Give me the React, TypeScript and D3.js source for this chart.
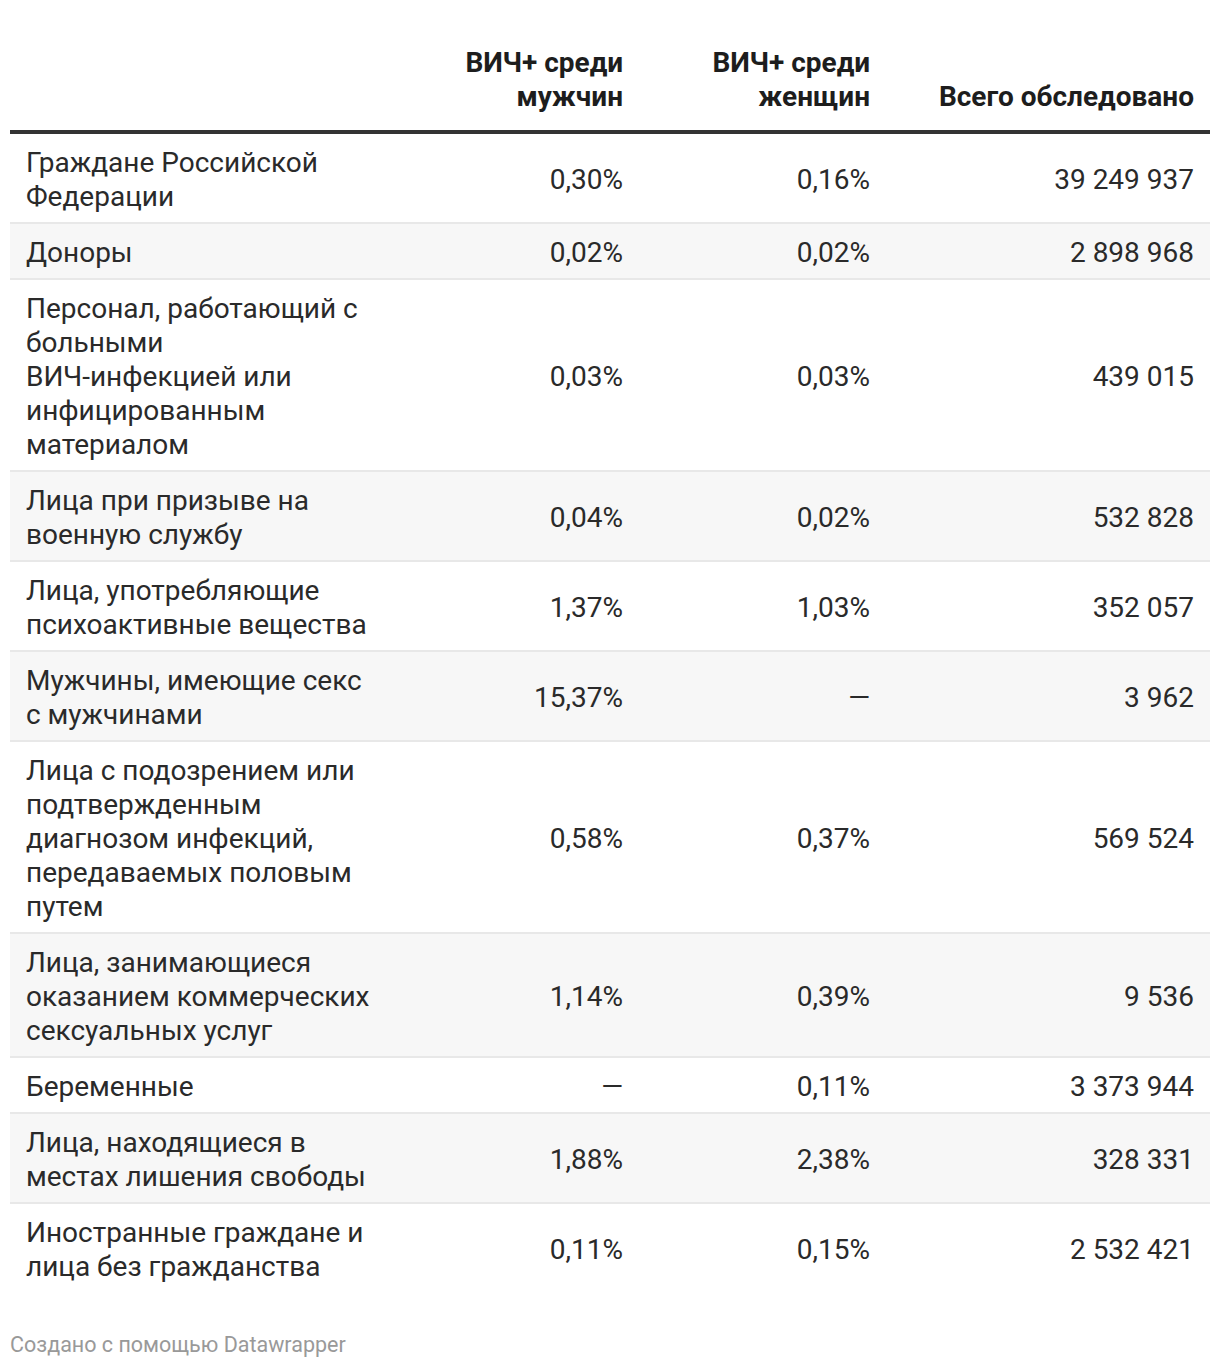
import React, { useEffect } from "react";
import * as d3 from "d3";

const headers: string[][] = [["ВИЧ+ среди", "мужчин"], ["ВИЧ+ среди", "женщин"], ["Всего обследовано"]];

const categories: string[][] = [
  ["Граждане Российской", "Федерации"],
  ["Доноры"],
  ["Персонал, работающий с", "больными", "ВИЧ-инфекцией или", "инфицированным", "материалом"],
  ["Лица при призыве на", "военную службу"],
  ["Лица, употребляющие", "психоактивные вещества"],
  ["Мужчины, имеющие секс", "с мужчинами"],
  ["Лица с подозрением или", "подтвержденным", "диагнозом инфекций,", "передаваемых половым", "путем"],
  ["Лица, занимающиеся", "оказанием коммерческих", "сексуальных услуг"],
  ["Беременные"],
  ["Лица, находящиеся в", "местах лишения свободы"],
  ["Иностранные граждане и", "лица без гражданства"],
];

const menPct: (number | null)[] = [0.3, 0.02, 0.03, 0.04, 1.37, 15.37, 0.58, 1.14, null, 1.88, 0.11];
const womenPct: (number | null)[] = [0.16, 0.02, 0.03, 0.02, 1.03, null, 0.37, 0.39, 0.11, 2.38, 0.15];
const totalTested: number[] = [39249937, 2898968, 439015, 532828, 352057, 3962, 569524, 9536, 3373944, 328331, 2532421];

const footer = "Создано с помощью Datawrapper";

const W = 1220;
const H = 1368;
const FONT = "Roboto, 'Noto Sans', sans-serif";

const ruLocale = d3.formatLocale({
  decimal: ",",
  thousands: "\u00a0",
  grouping: [3],
  currency: ["", " ₽"],
});
const fmtPct = (v: number | null) => (v == null ? "—" : ruLocale.format(".2f")(v) + "%");
const fmtInt = (v: number) => ruLocale.format(",d")(v);

export default function App() {
  useEffect(() => {
    document.body.style.margin = "0";
  }, []);

  const left = 10;
  const right = 1210;
  const padX = 16;
  const lineH = 34;
  const padY = 11;
  const fs = 28;
  const headTop = 134;

  const colRight = [623, 870, 1194];

  const heights = categories.map((c) => c.length * lineH + 2 * padY);
  const tops = [headTop, ...Array.from(d3.cumsum(heights)).map((s) => headTop + s)];

  return (
    <svg width={W} height={H} style={{ display: "block", fontFamily: FONT }}>
      <rect x={0} y={0} width={W} height={H} fill="#fff" />
      {headers.map((h, j) => (
        <text key={"h" + j} textAnchor="end" fontWeight={700} fontSize={fs} fill="#1d1d1d">
          {h.map((line, k) => (
            <tspan key={k} x={colRight[j]} y={106 - (h.length - 1 - k) * lineH}>
              {line}
            </tspan>
          ))}
        </text>
      ))}
      <rect x={left} y={130} width={right - left} height={4} fill="#333" />
      {categories.map((cat, i) => {
        const top = tops[i];
        const h = heights[i];
        const midBase = top + padY + (cat.length * lineH) / 2 + 9.5;
        const vals = [fmtPct(menPct[i]), fmtPct(womenPct[i]), fmtInt(totalTested[i])];
        return (
          <g key={i}>
            <rect x={left} y={top} width={right - left} height={h} fill={i % 2 === 1 ? "#f7f7f7" : "#fff"} />
            {i < categories.length - 1 && (
              <rect x={left} y={top + h - 2} width={right - left} height={2} fill="#e8e8e8" />
            )}
            <text fontSize={fs} fill="#2a2a2a">
              {cat.map((line, k) => (
                <tspan key={k} x={left + padX} y={top + padY + 27 + k * lineH}>
                  {line}
                </tspan>
              ))}
            </text>
            {vals.map((v, j) => (
              <text key={j} x={colRight[j]} y={midBase} textAnchor="end" fontSize={fs} fill="#2a2a2a">
                {v}
              </text>
            ))}
          </g>
        );
      })}
      <text x={10} y={1352} fontSize={21.5} fill="#999">
        {footer}
      </text>
    </svg>
  );
}
